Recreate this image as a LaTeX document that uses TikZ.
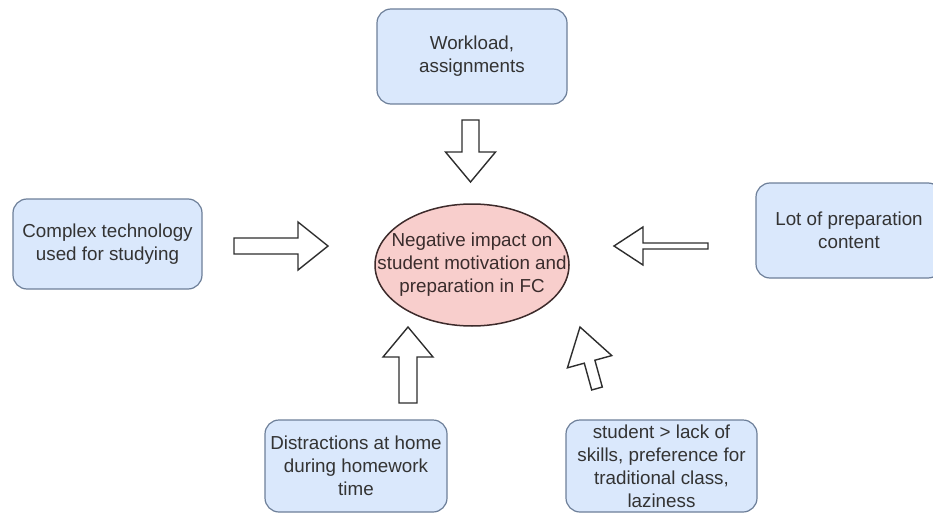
\documentclass[tikz,border=0pt]{standalone}
\usepackage{fontspec}
\setmainfont{Liberation Sans}
\usetikzlibrary{calc,shapes.geometric}

\definecolor{boxfill}{HTML}{DAE8FC}
\definecolor{boxline}{HTML}{6D7F99}
\definecolor{ovalfill}{HTML}{F8CECC}
\definecolor{ovalline}{HTML}{3D2B2B}
\definecolor{ovaltext}{HTML}{3A2C2C}
\definecolor{txt}{HTML}{333333}
\definecolor{arrline}{HTML}{2E2E2E}

\tikzset{
  factor/.style={draw=boxline, fill=boxfill, line width=1.2pt, rounded corners=14pt,
    text=txt, align=center, inner sep=0pt,
    font=\fontsize{18.8}{23}\selectfont},
  effect/.style={ellipse, draw=ovalline, fill=ovalfill, line width=1.5pt,
    inner sep=0pt, minimum width=194pt, minimum height=122pt},
  effecttext/.style={text=ovaltext, align=center, inner sep=0pt,
    font=\fontsize{18.8}{23}\selectfont},
  blkarr/.style={draw=arrline, fill=white, line width=1.4pt, line join=miter},
}

% hollow block arrow: #1 tail, #2 tip, #3 shaft half-width,
% #4 head half-width, #5 head length
\newcommand\blockarrow[5]{%
  \coordinate (ba-base) at ($(#2)!#5!(#1)$);
  \draw[blkarr]
    (#2)
    -- ($(ba-base)!#4!90:(#2)$)
    -- ($(ba-base)!#3!90:(#2)$)
    -- ($(#1)!#3!90:(#2)$)
    -- ($(#1)!#3!-90:(#2)$)
    -- ($(ba-base)!#3!-90:(#2)$)
    -- ($(ba-base)!#4!-90:(#2)$)
    -- cycle;
}

\begin{document}
\begin{tikzpicture}[x=1pt, y=-1pt]
  \useasboundingbox (0,0) rectangle (933,513);
  \clip (0,0) rectangle (933,513);

  % central effect: oval with its caption laid over it
  \node[effect] (impact) at (472,265) {};
  \node[effecttext] (impact-text) at (impact.center)
    {Negative impact on\\student motivation and\\preparation in FC};

  % contributing factors
  \node[factor, minimum width=190pt, minimum height=95pt] (work) at (472,56.5)
    {Workload,\\assignments};
  \node[factor, minimum width=189pt, minimum height=90pt] (tech) at (107.5,244)
    {Complex technology\\used for studying};
  \node[factor, minimum width=186pt, minimum height=95pt] (prep) at (849,230.5)
    {Lot of preparation\\content};
  \node[factor, minimum width=182pt, minimum height=92pt] (dist) at (356,466)
    {Distractions at home\\during homework\\time};
  \node[factor, minimum width=191pt, minimum height=92pt] (stud) at (661.5,466)
    {student > lack of\\skills, preference for\\traditional class,\\laziness};

  % arrow end points
  \coordinate (wk-tail) at (470.5,120);  \coordinate (wk-tip) at (470.5,182);
  \coordinate (te-tail) at (234,246);    \coordinate (te-tip) at (328,246);
  \coordinate (pr-tail) at (708,246);    \coordinate (pr-tip) at (614,246);
  \coordinate (di-tail) at (408,403);    \coordinate (di-tip) at (408,327);
  \coordinate (st-tail) at (597,388.5);  \coordinate (st-tip) at (580,327);

  % hollow arrows pointing at the effect
  \blockarrow{wk-tail}{wk-tip}{8.5pt}{25pt}{30pt}
  \blockarrow{te-tail}{te-tip}{8pt}{24pt}{30pt}
  \blockarrow{pr-tail}{pr-tip}{3pt}{19pt}{29pt}
  \blockarrow{di-tail}{di-tip}{9pt}{25pt}{30pt}
  \blockarrow{st-tail}{st-tip}{5.5pt}{23pt}{36pt}
\end{tikzpicture}
\end{document}
